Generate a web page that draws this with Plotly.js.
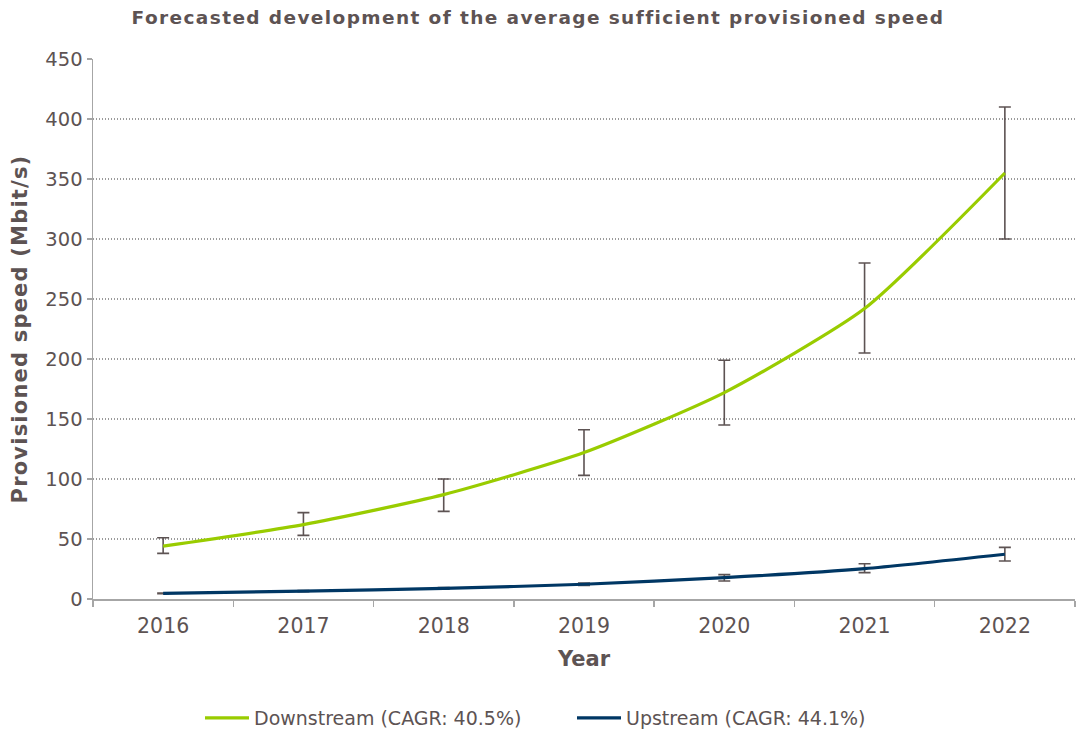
<!DOCTYPE html>
<html><head><meta charset="utf-8">
<script src="https://cdn.plot.ly/plotly-3.0.1.min.js"></script>
<style>html,body{margin:0;padding:0;background:#fff;}#chart{width:1076px;height:731px;}
.gtitle{letter-spacing:1.4px;}
.ytitle{letter-spacing:1.2px;}
</style>
</head><body><div id="chart"></div>
<script>
const years = ['2016','2017','2018','2019','2020','2021','2022'];
const downstream = [44, 62, 87, 122, 172, 242, 355];
const downHigh = [51, 72, 100, 141, 199, 280, 410];
const downLow = [38, 53, 73, 103, 145, 205, 300];
const upstream = [4.7, 6.5, 8.8, 12.3, 17.8, 25.3, 37.3];
const upHigh = [5.0, 7.0, 9.5, 13.3, 20.3, 29.4, 43.0];
const upLow = [4.4, 6.0, 8.1, 11.3, 15.0, 22.0, 31.7];

const txt = '#5d5353';
function errs(v, hi, lo) {
  return {type:'data', symmetric:false,
    array: v.map((x,i)=>hi[i]-x), arrayminus: v.map((x,i)=>x-lo[i]),
    color:'#5d5353', thickness:1.6, width:6};
}
const traces = [
  {x: years, y: downstream, name: 'Downstream (CAGR: 40.5%)', mode:'lines',
   line:{color:'#99cc00', width:3.2, shape:'spline', smoothing:0.6},
   error_y: errs(downstream, downHigh, downLow)},
  {x: years, y: upstream, name: 'Upstream (CAGR: 44.1%)', mode:'lines',
   line:{color:'#003764', width:3.2, shape:'spline', smoothing:0.6},
   error_y: errs(upstream, upHigh, upLow)}
];
const layout = {
  width:1076, height:731,
  margin:{l:93, r:1, t:59, b:132},
  paper_bgcolor:'#fff', plot_bgcolor:'#fff',
  font:{family:'DejaVu Sans, Verdana, sans-serif', color:txt},
  title:{text:'<b>Forecasted development of the average sufficient provisioned speed</b>',
    x:0.5, xref:'container', y:1-18/731, yanchor:'middle', yref:'container',
    font:{size:18.5, color:txt, family:'DejaVu Sans, Verdana, sans-serif'}},
  xaxis:{type:'category', range:[-0.5, 6.5], tickson:'boundaries', ticks:'outside', ticklen:6, tickcolor:'#a6a6a6', tickwidth:1.5,
    showline:true, linecolor:'#a6a6a6', linewidth:1.5, showgrid:false, zeroline:false,
    tickfont:{size:20.5, color:txt}, ticklabelstandoff:8,
    title:{text:'<b>Year</b>', font:{size:21, color:txt}, standoff:14}},
  yaxis:{range:[0,450], dtick:50, tick0:0, ticks:'outside', ticklen:5, tickcolor:'#a6a6a6', tickwidth:1.5,
    showline:true, linecolor:'#a6a6a6', linewidth:1.5, zeroline:false,
    showgrid:true, gridcolor:'#9a9a9a', griddash:'1px,2px', gridwidth:1.2,
    tickfont:{size:19.5, color:txt},
    title:{text:'<b>Provisioned speed (Mbit/s)</b>', font:{size:21, color:txt}, standoff:12}},
  showlegend:true,
  legend:{orientation:'h', xref:'container', x:200/1076, xanchor:'left', yref:'container', y:13/731, yanchor:'middle',
    font:{size:19, color:txt}, traceorder:'normal', itemwidth:44,
    entrywidth:313, entrywidthmode:'pixels'}
};
Plotly.newPlot('chart', traces, layout, {displayModeBar:false, staticPlot:true});
</script></body></html>
